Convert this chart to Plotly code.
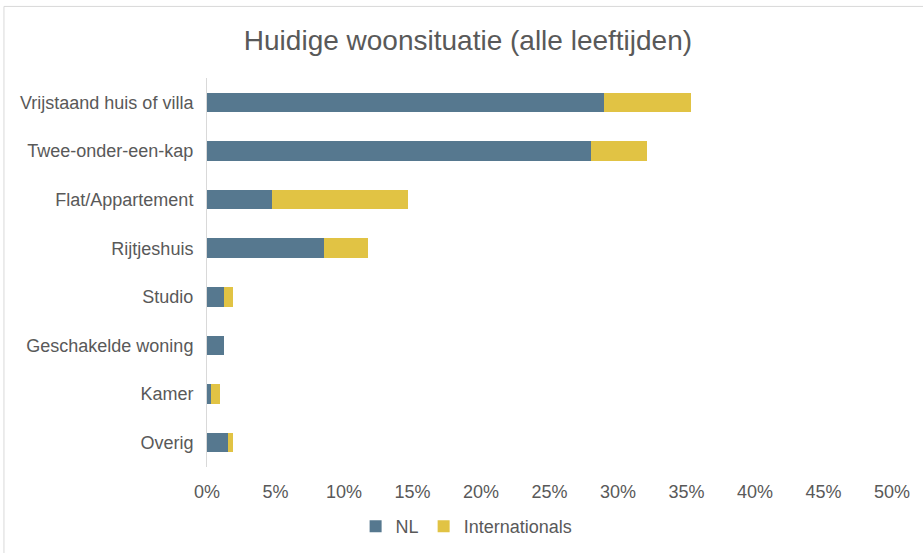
import plotly.graph_objects as go

# Data (percentages)
categories = ['Vrijstaand huis of villa', 'Twee-onder-een-kap', 'Flat/Appartement',
              'Rijtjeshuis', 'Studio', 'Geschakelde woning', 'Kamer', 'Overig']
nl_values = [29.0, 28.0, 4.75, 8.55, 1.25, 1.25, 0.3, 1.55]
int_values = [6.35, 4.15, 9.9, 3.2, 0.65, 0.0, 0.65, 0.35]
x_tickvals = [0, 5, 10, 15, 20, 25, 30, 35, 40, 45, 50]
x_ticktext = [f'{v}%' for v in x_tickvals]

text_color = '#595959'

fig = go.Figure()
fig.add_trace(go.Bar(
    y=categories, x=nl_values, name='NL', orientation='h',
    marker=dict(color='#56788F', line=dict(width=0)), width=0.4
))
fig.add_trace(go.Bar(
    y=categories, x=int_values, name='Internationals', orientation='h',
    marker=dict(color='#E1C344', line=dict(width=0)), width=0.4
))

fig.update_layout(
    template='none',
    barmode='stack',
    width=923, height=553,
    margin=dict(l=207, r=31, t=78, b=86, autoexpand=False),
    paper_bgcolor='white',
    plot_bgcolor='white',
    font=dict(family='Liberation Sans, Arial, sans-serif', size=18, color=text_color),
    title=dict(
        text='Huidige woonsituatie (alle leeftijden)',
        x=0.507, xanchor='center', y=0.928, yanchor='middle',
        font=dict(size=28, color=text_color)
    ),
    legend=dict(
        orientation='h', traceorder='normal',
        x=0.379, xanchor='center',
        y=-0.153, yanchor='middle',
        font=dict(size=18, color=text_color),
        itemwidth=30
    ),
    showlegend=True,
)

fig.update_xaxes(
    range=[0, 50], tickvals=x_tickvals, ticktext=x_ticktext,
    showgrid=False, zeroline=False, showline=False, automargin=False,
    tickfont=dict(size=18, color=text_color), ticks='', ticklabelstandoff=12
)
fig.update_yaxes(
    autorange='reversed', showgrid=False, zeroline=False, automargin=False,
    showline=True, linecolor='#d9d9d9', linewidth=1,
    ticks='', ticklabelstandoff=9,
    tickfont=dict(size=18, color=text_color)
)

# light border of the chart frame (only top and left edges fall inside the window)
fig.add_shape(
    type='rect', xref='paper', yref='paper',
    x0=-0.2964, x1=1.06, y0=-0.24, y1=1.184,
    line=dict(color='#d9d9d9', width=1), fillcolor='rgba(0,0,0,0)', layer='below'
)

# drop the default page margin so the figure sits at the window origin
fig.write_html('out.html', config={'displayModeBar': False},
               post_script="document.body.style.margin='0';")
